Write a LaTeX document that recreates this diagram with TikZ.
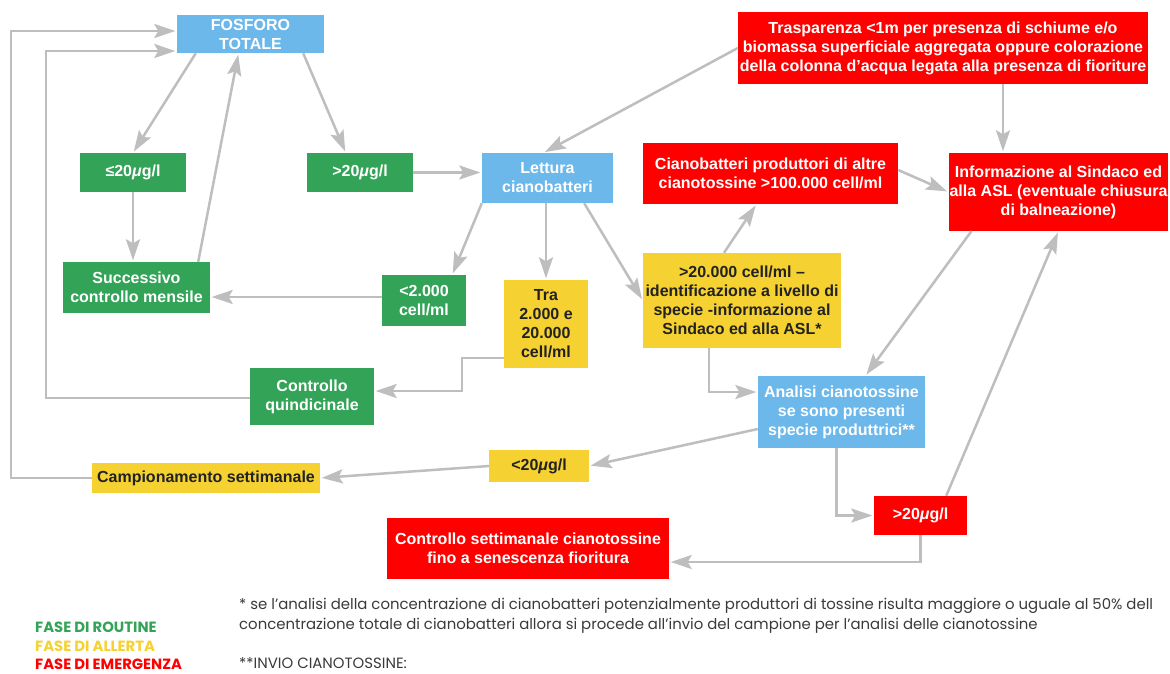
\documentclass[tikz,border=0pt]{standalone}
\usepackage{fontspec}
\setmainfont{Liberation Sans}
\newfontfamily\footfont{Poppins}
\usetikzlibrary{arrows.meta,calc}
\definecolor{cblue}{HTML}{6CB8EB}
\definecolor{cgreen}{HTML}{33A457}
\definecolor{cyellow}{HTML}{F5D131}
\definecolor{cred}{HTML}{FF0000}
\definecolor{cline}{HTML}{BEBEBE}
\definecolor{ctext}{HTML}{222222}
\definecolor{cfoot}{HTML}{3A3A3A}
\tikzset{
  box/.style={rectangle, inner sep=1pt, align=center, font=\bfseries\fontsize{16}{19}\selectfont},
  bbox/.style={box, fill=cblue, text=white},
  gbox/.style={box, fill=cgreen, text=white},
  ybox/.style={box, fill=cyellow, text=ctext},
  rbox/.style={box, fill=cred, text=white},
  arr/.style={draw=cline, line width=2.5pt, shorten >=1.5pt, -{Stealth[length=21pt,width=14pt,inset=4pt]}},
  foot/.style={inner sep=0pt, anchor=west, text=cfoot, font=\footfont\fontsize{14.9}{17}\selectfont},
  leg/.style={inner sep=0pt, anchor=west, font=\footfont\bfseries\fontsize{14.8}{17}\selectfont}
}
\begin{document}
\begin{tikzpicture}[x=1pt,y=-1pt]
\useasboundingbox (0,0) rectangle (1170,673);
\fill[white] (0,0) rectangle (1170,673);
% nodes
\node[bbox, minimum width=147pt, minimum height=38pt] (fos) at (250.5,34) {FOSFORO\\TOTALE};
\node[gbox, minimum width=106pt, minimum height=39pt] (le20) at (133,172.5) {≤20\textit{μ}g/l};
\node[gbox, minimum width=106pt, minimum height=39pt] (gt20) at (360,172.5) {>20\textit{μ}g/l};
\node[bbox, minimum width=131pt, minimum height=50pt] (lett) at (547.5,178) {Lettura\\cianobatteri};
\node[rbox, minimum width=410pt, minimum height=72pt] (trasp) at (943,48) {Trasparenza <1m per presenza di schiume e/o\\biomassa superficiale aggregata oppure colorazione\\della colonna d’acqua legata alla presenza di fioriture};
\node[rbox, minimum width=255pt, minimum height=61pt] (prod) at (770.5,173.5) {Cianobatteri produttori di altre\\cianotossine >100.000 cell/ml};
\node[rbox, minimum width=219pt, minimum height=78pt] (info) at (1058.5,192) {Informazione al Sindaco ed\\alla ASL (eventuale chiusura\\di balneazione)};
\node[gbox, minimum width=147pt, minimum height=51pt] (succ) at (136.5,287.5) {Successivo\\controllo mensile};
\node[gbox, minimum width=84pt, minimum height=51pt] (lt2000) at (424,300.5) {<2.000\\cell/ml};
\node[ybox, minimum width=84pt, minimum height=88pt] (tra) at (546,324) {Tra\\2.000 e\\20.000\\cell/ml};
\node[ybox, minimum width=198pt, minimum height=95pt] (gt20000) at (742,300.5) {>20.000 cell/ml –\\identificazione a livello di\\specie -informazione al\\Sindaco ed alla ASL*};
\node[gbox, minimum width=124pt, minimum height=57pt] (quind) at (312,396.5) {Controllo\\quindicinale};
\node[bbox, minimum width=167pt, minimum height=72pt] (anal) at (841.5,412) {Analisi cianotossine\\se sono presenti\\specie produttrici**};
\node[ybox, minimum width=100pt, minimum height=32pt] (lt20y) at (539,466) {<20\textit{μ}g/l};
\node[ybox, minimum width=228pt, minimum height=30pt] (camp) at (206,478) {Campionamento settimanale};
\node[rbox, minimum width=93pt, minimum height=39pt] (gt20r) at (920.5,515.5) {>20\textit{μ}g/l};
\node[rbox, minimum width=282pt, minimum height=61pt] (ctrl) at (528,548.5) {Controllo settimanale cianotossine\\fino a senescenza fioritura};
% helper coordinates
\coordinate (k1) at (462,358);
\coordinate (k2) at (462,391);
\coordinate (cA) at (11,31);
\coordinate (cB) at (46,51);
% connectors
\draw[arr] ([xshift=19pt]fos.south west) -- (le20.north);
\draw[arr] ([xshift=-21pt]fos.south east) -- ([xshift=39pt]gt20.north west);
\draw[arr] (gt20.east) -- (gt20.east -| lett.west);
\draw[arr] (trasp.west) -- ([xshift=-4pt]lett.north);
\draw[arr] ([xshift=60pt]trasp.south) -- ([xshift=60pt]trasp.south |- info.north);
\draw[arr] ([yshift=3.5pt]prod.east) -- (info.west);
\draw[arr] (le20.south) -- (le20.south |- succ.north);
\draw[arr] ([xshift=-12pt]succ.north east) -- ([xshift=-12pt]fos.south);
\draw[arr] (lett.south west) -- ([xshift=-14pt]lt2000.north east);
\draw[arr] (tra.north |- lett.south) -- (tra.north);
\draw[arr] ([xshift=-29pt]lett.south east) -- (gt20000.west);
\draw[arr] ([yshift=3.5pt]lt2000.west) -- ([yshift=3.5pt]lt2000.west -| succ.east);
\draw[arr] (tra.west |- k1) -- (k1) -- (k2) -- (k2 -| quind.east);
\draw[arr] ([xshift=-18pt]gt20000.north) -- ([xshift=-14pt]prod.south);
\draw[arr] ([xshift=-33pt]gt20000.south) |- ([yshift=20pt]anal.west);
\draw[arr] ([xshift=23pt]info.south west) -- ([xshift=24pt]anal.north);
\draw[arr] ([yshift=-17pt]anal.west) -- (lt20y.east);
\draw[arr] (lt20y.west) -- (camp.east);
\draw[arr] ([xshift=-5pt]anal.south) |- (gt20r.west);
\draw[arr] ([xshift=-21pt]gt20r.north east) -- (info.south);
\draw[arr] (gt20r.south) |- ([yshift=-13.5pt]ctrl.east);
\draw[arr] (camp.west) -| (cA) -- (cA -| fos.west);
\draw[arr] ([yshift=-1.5pt]quind.west) -| (cB) -- (cB -| fos.west);
% legend
\node[leg, text=cgreen] (l1) at (35,627) {FASE DI ROUTINE};
\node[leg, text=cyellow] (l2) at (35,646) {FASE DI ALLERTA};
\node[leg, text=cred] (l3) at (35,664) {FASE DI EMERGENZA};
% footnotes
\node[foot] (f1) at (239,606) {* se l’analisi della concentrazione di cianobatteri potenzialmente produttori di tossine risulta maggiore o uguale al 50\% dell};
\node[foot] (f2) at (239,626) {concentrazione totale di cianobatteri allora si procede all’invio del campione per l’analisi delle cianotossine};
\node[foot] (f3) at (239,663) {**INVIO CIANOTOSSINE:};
\end{tikzpicture}
\end{document}
